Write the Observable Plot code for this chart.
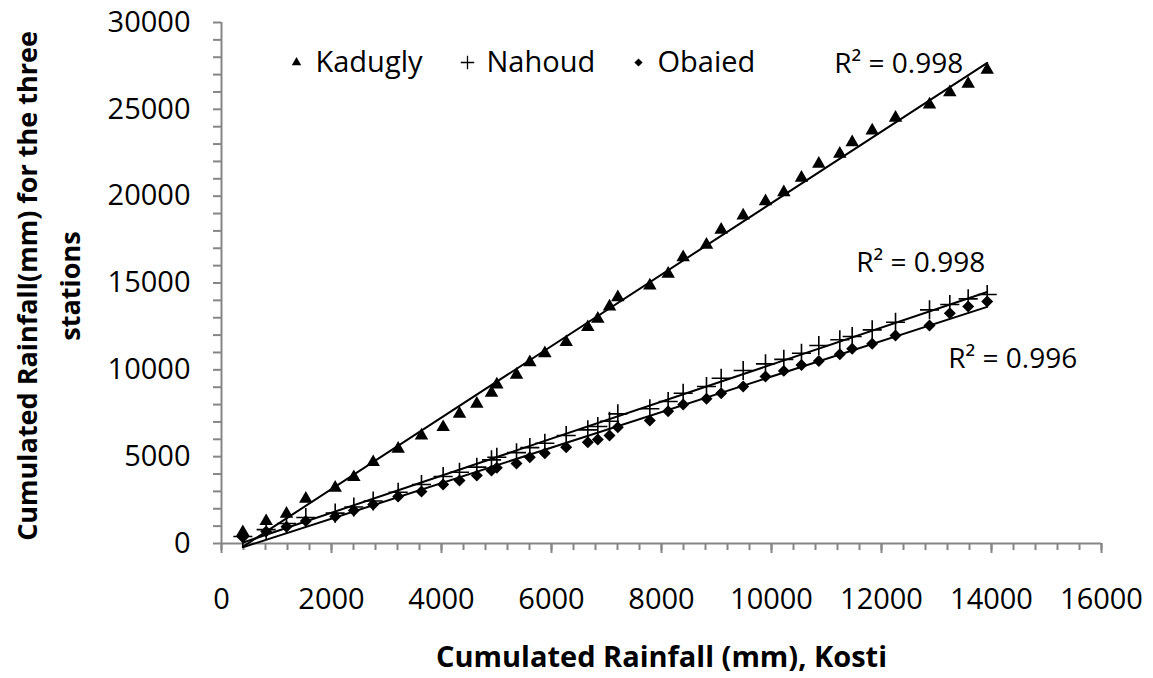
<!DOCTYPE html>
<html>
<head>
<meta charset="utf-8">
<script src="https://cdn.jsdelivr.net/npm/d3@7"></script>
<script src="https://cdn.jsdelivr.net/npm/@observablehq/plot@0.6"></script>
<style>
  html, body { margin: 0; padding: 0; background: #fff; }
</style>
</head>
<body>
<div id="chart"></div>
<script>
// Cumulated rainfall at Kosti (x) and at the three stations (y), mm
const kosti = [388, 812, 1182, 1533, 2067, 2406, 2758, 3212, 3636, 4030, 4327, 4642, 4909, 5006, 5364, 5606, 5879, 6267, 6660, 6842, 7055, 7206, 7788, 8121, 8394, 8818, 9085, 9485, 9891, 10224, 10545, 10860, 11242, 11467, 11831, 12255, 12873, 13242, 13576, 13922];
const kadugly = [650, 1285, 1708, 2572, 3205, 3818, 4683, 5450, 6218, 6697, 7465, 8040, 8675, 9154, 9712, 10437, 10955, 11590, 12454, 12936, 13644, 14180, 14853, 15526, 16483, 17196, 18059, 18883, 19700, 20225, 21054, 21860, 22435, 23103, 23777, 24508, 25274, 25982, 26465, 27271];
const nahoud = [400, 800, 1150, 1500, 1750, 2100, 2450, 2950, 3400, 3857, 4107, 4395, 4818, 4970, 5230, 5520, 5775, 6218, 6545, 6736, 7041, 7466, 7755, 8175, 8654, 9039, 9517, 9960, 10345, 10600, 10955, 11398, 11730, 11917, 12303, 12741, 13455, 13759, 14087, 14335];
const obaied = [363, 690, 960, 1300, 1550, 1900, 2245, 2706, 2994, 3397, 3627, 3915, 4203, 4357, 4610, 4970, 5200, 5545, 5832, 5987, 6218, 6697, 7081, 7617, 8002, 8330, 8654, 9039, 9614, 9940, 10276, 10515, 10900, 11209, 11496, 11975, 12551, 13259, 13644, 13932];

const stations = ["Kadugly", "Nahoud", "Obaied"];
const r2Labels = ["R² = 0.998", "R² = 0.998", "R² = 0.996"];
const xTicks = d3.range(0, 16001, 2000);
const xMinor = d3.range(0, 16001, 400);
const yTicks = d3.range(0, 30001, 5000);
const yMinor = d3.range(0, 30001, 1000);
const xTitle = "Cumulated Rainfall (mm), Kosti";
const yTitle = "Cumulated Rainfall(mm) for the three\nstations";

const seriesValues = [kadugly, nahoud, obaied];
const rows = stations.flatMap((s, i) =>
  kosti.map((k, j) => ({station: s, kosti: k, value: seriesValues[i][j]})));
const lastRows = stations.map((s, i) => ({station: s, kosti: kosti[kosti.length - 1], value: seriesValues[i][kosti.length - 1], label: r2Labels[i]}));

const FONT = "Open Sans";
const GRAY = "#868686";
const fmt = d3.format("d");

// marker styles per station
const markerStyle = {
  Kadugly: {symbol: "triangle", r: 5.0, fill: "black", stroke: "none"},
  Nahoud: {symbol: "plus", r: 6.2, fill: "none", stroke: "black", strokeWidth: 1.6},
  Obaied: {symbol: "diamond2", r: 5.4, fill: "black", stroke: "none"}
};
const legendStyle = {
  Kadugly: {symbol: "triangle", r: 3.5, fill: "black", stroke: "none"},
  Nahoud: {symbol: "plus", r: 4.4, fill: "none", stroke: "black", strokeWidth: 1.3},
  Obaied: {symbol: "diamond2", r: 3.7, fill: "black", stroke: "none"}
};
const legendDx = [75, 246, 417];
const labelOffsets = [
  {textAnchor: "end", dx: -24, dy: -6},
  {textAnchor: "end", dx: -2, dy: -32},
  {textAnchor: "start", dx: -39, dy: 57}
];

const marks = [
  // tick marks
  Plot.axisX({ticks: xMinor, tickSize: 7, text: null, label: null, stroke: GRAY, strokeWidth: 2}),
  Plot.axisX({ticks: xTicks, tickSize: 10, text: null, label: null, stroke: GRAY, strokeWidth: 2}),
  Plot.axisX({ticks: xTicks, tickSize: 0, tickPadding: 45, tickFormat: fmt, fontSize: 29, fill: "black", label: null}),
  Plot.axisY({ticks: yMinor, tickSize: 8, text: null, label: null, stroke: GRAY, strokeWidth: 2}),
  Plot.axisY({ticks: yTicks, tickSize: 0, tickPadding: 31, tickFormat: fmt, fontSize: 29, fill: "black", label: null}),
  Plot.ruleY([0], {stroke: GRAY, strokeWidth: 2}),
  Plot.ruleX([0], {stroke: GRAY, strokeWidth: 2}),
  // trend lines
  Plot.linearRegressionY(rows, {x: "kosti", y: "value", z: "station", ci: 0, stroke: "black", strokeWidth: 2})
];

stations.forEach((s) => {
  marks.push(Plot.dot(rows.filter(d => d.station === s), {x: "kosti", y: "value", ...markerStyle[s]}));
});

// R² labels
stations.forEach((s, i) => {
  marks.push(Plot.text(lastRows.filter(d => d.station === s), {
    x: "kosti", y: "value", text: "label", fontSize: 28, fill: "black", lineAnchor: "middle", ...labelOffsets[i]
  }));
});

// legend
stations.forEach((s, i) => {
  marks.push(Plot.dot([s], {frameAnchor: "top-left", dx: legendDx[i], dy: 40, ...legendStyle[s]}));
  marks.push(Plot.text([s], {frameAnchor: "top-left", dx: legendDx[i] + 19, dy: 40, text: d => d, textAnchor: "start", lineAnchor: "middle", fontSize: 29, fill: "black"}));
});

// axis titles
marks.push(Plot.text([xTitle], {frameAnchor: "bottom", dy: 114, text: d => d, textAnchor: "middle", fontSize: 29, fontWeight: "bold", fill: "black", lineAnchor: "middle"}));
marks.push(Plot.text([yTitle], {frameAnchor: "left", dx: -177, dy: 3, text: d => d, rotate: -90, textAnchor: "middle", fontSize: 27, fontWeight: "bold", fill: "black", lineAnchor: "middle", lineHeight: 1.6}));

const chart = Plot.plot({
  width: 1153,
  height: 678,
  marginLeft: 221,
  marginRight: 52,
  marginTop: 22,
  marginBottom: 135,
  x: {domain: [0, 16000]},
  y: {domain: [0, 30000]},
  style: {fontFamily: FONT, fontSize: "29px", color: "black", background: "white", overflow: "visible"},
  marks
});
document.getElementById("chart").appendChild(chart);
</script>
</body>
</html>
